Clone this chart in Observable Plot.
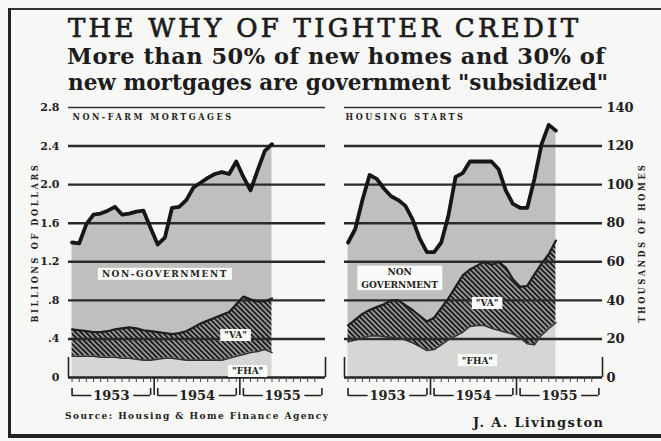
<!DOCTYPE html>
<html>
<head>
<meta charset="utf-8">
<script src="https://cdn.jsdelivr.net/npm/d3@7"></script>
<script src="https://cdn.jsdelivr.net/npm/@observablehq/plot@0.6"></script>
<style>
html, body { margin: 0; padding: 0; background: #f7f7f5; }
#page { position: relative; width: 661px; height: 441px; overflow: hidden; background: #f7f7f5; color: #1c1c1c; font-family: "DejaVu Serif", serif; }
.frame { position: absolute; left: 8px; top: 8px; width: 720px; height: 430px; box-sizing: border-box;
  border-left: 3px solid #222; border-top: 2px solid #333; border-bottom: 4px solid #222; }
.fit { position: absolute; white-space: nowrap; transform-origin: 0 0; line-height: 1; }
#title { font-size: 26px; font-weight: normal; -webkit-text-stroke: 0.7px #1c1c1c; }
.sub { font-size: 22.5px; font-weight: bold; }
.src { font-family: "DejaVu Serif Condensed", "DejaVu Serif", serif; font-size: 10px; font-weight: bold; }
.sig { font-size: 13px; font-weight: bold; }
#plotL { position: absolute; left: 0; top: 95px; }
#plotR { position: absolute; left: 330px; top: 95px; }
</style>
</head>
<body>
<div id="page">
  <div class="frame"></div>
  <div class="fit" id="title" data-x="68" data-base="36.5" data-w="510">THE WHY OF TIGHTER CREDIT</div>
  <div class="fit sub" data-x="67" data-base="64" data-w="538">More than 50% of new homes and 30% of</div>
  <div class="fit sub" data-x="68" data-base="89.5" data-w="540">new mortgages are government "subsidized"</div>
  <div id="plotL"></div>
  <div id="plotR"></div>
  <div class="fit src" data-x="65" data-base="419" data-w="263">Source: Housing &amp; Home Finance Agency</div>
  <div class="fit sig" data-x="473" data-base="427" data-w="130">J. A. Livingston</div>
</div>
<script>
// ---------- data ----------
const months = ["1953-01","1953-02","1953-03","1953-04","1953-05","1953-06","1953-07","1953-08","1953-09","1953-10","1953-11","1953-12",
                "1954-01","1954-02","1954-03","1954-04","1954-05","1954-06","1954-07","1954-08","1954-09","1954-10","1954-11","1954-12",
                "1955-01","1955-02","1955-03","1955-04","1955-05","1955-06"];
const years = ["1953", "1954", "1955"];

// Non-farm mortgages, billions of dollars (Jan 1953 - May 1955)
const mortgageFHA    = [0.22,0.22,0.22,0.22,0.21,0.21,0.21,0.20,0.20,0.19,0.18,0.18,0.19,0.20,0.20,0.19,0.18,0.18,0.18,0.18,0.18,0.18,0.20,0.22,0.24,0.26,0.27,0.29,0.26];
const mortgageVA     = [0.28,0.27,0.26,0.25,0.26,0.27,0.29,0.31,0.32,0.32,0.31,0.30,0.28,0.26,0.25,0.27,0.30,0.34,0.38,0.41,0.44,0.47,0.48,0.54,0.60,0.55,0.52,0.50,0.56];
const mortgageNonGov = [0.90,0.90,1.11,1.22,1.23,1.25,1.27,1.18,1.18,1.21,1.24,1.07,0.91,0.99,1.31,1.31,1.36,1.45,1.46,1.48,1.49,1.48,1.43,1.48,1.24,1.13,1.36,1.56,1.60];

// Housing starts, thousands of homes (Jan 1953 - Jun 1955)
const startsFHA    = [18.5,19.5,20.5,21.5,21.7,21.2,20.8,20.5,19.5,18,16,14,14.5,17,19.5,21.5,23.5,26.5,27,27,25.5,24.5,23.5,22.5,20.5,17.5,17,22,25.5,28.5];
const startsVA     = [8.5,10.5,12.5,13.5,14.8,16.8,19.2,19.5,18,17,16,15,16.5,19,21.5,25.5,29.5,29.5,31,33,33,35.5,33.5,28.5,26.5,30,36.5,37,38.5,42.5];
const startsNonGov = [43,47,59,70,66.5,60,54,52,51.5,47,40,36,34,34,43,57,53,56,54,52,53.5,48,40,39,41,40.5,49.5,62,67,57];

const leftTickValues  = [0, 0.4, 0.8, 1.2, 1.6, 2.0, 2.4, 2.8];
const leftTickLabels  = ["0", ".4", ".8", "1.2", "1.6", "2.0", "2.4", "2.8"];
const rightTickValues = [0, 20, 40, 60, 80, 100, 120, 140];
const rightTickLabels = ["0", "20", "40", "60", "80", "100", "120", "140"];

const leftNotes = [
  {label: "NON-GOVERNMENT", m: 13, v: 1.08},
  {label: "\"VA\"", m: 22.9, v: 0.446},
  {label: "\"FHA\"", m: 24.6, v: 0.073}
];
const rightNotes = [
  {label: "NON\nGOVERNMENT", m: 7.2, v: 51.9},
  {label: "\"VA\"", m: 19.4, v: 38.9},
  {label: "\"FHA\"", m: 18.05, v: 9.3}
];

// ---------- helpers ----------
const bg = "#f7f7f5";
const ns = "http://www.w3.org/2000/svg";
const serif = "DejaVu Serif";
const cond = "DejaVu Serif Condensed, DejaVu Serif";
const monthIndex = s => (+s.slice(0, 4) - 1953) * 12 + (+s.slice(5, 7) - 1);

function makePanel(cfg) {
  const H = 330, mt = 12, mb = 48;
  const pxY = cfg.yMax / (H - mt - mb);
  const rows = cfg.fha.map((f, i) => {
    const va = cfg.va[i], non = cfg.non[i];
    return {m: monthIndex(months[i]), fha: f, vaTop: f + va, total: f + va + non};
  });
  const yearRows = years.map((label, k) => ({label, start: 12 * k, end: 12 * k + 11, mid: 12 * k + 5.5}));
  const bracketEnds = yearRows.flatMap(d => [d.start, d.end]);
  const yearBounds = yearRows.slice(1).map(d => d.start - 0.5);
  const monthTicks = d3.range(0, 35);
  const xDomain = [-0.5, 35.5];
  const left = cfg.side === "left";
  const grid = cfg.ticks.filter(v => v > 0 && v < cfg.yMax);
  const ink = "#222";
  const brY = -18 * pxY;

  return Plot.plot({
    width: cfg.width, height: H, marginTop: mt, marginBottom: mb,
    marginLeft: cfg.marginLeft, marginRight: cfg.marginRight,
    x: {domain: xDomain, axis: null},
    y: {domain: [0, cfg.yMax], axis: null},
    style: {background: "transparent", fontFamily: serif, overflow: "visible"},
    marks: [
      Plot.areaY(rows, {x: "m", y1: "vaTop", y2: "total", fill: "#bfbfbd"}),
      Plot.areaY(rows, {x: "m", y1: "fha", y2: "vaTop", fill: `url(#${cfg.hatchId})`}),
      Plot.areaY(rows, {x: "m", y1: 0, y2: "fha", fill: "#d6d6d4"}),
      Plot.ruleY(grid, {stroke: "#2a2a2a", strokeWidth: 2.4}),
      Plot.ruleY([cfg.yMax], {stroke: "#333", strokeWidth: 1.6}),
      Plot.lineY(rows, {x: "m", y: "fha", stroke: "#333", strokeWidth: 1.6}),
      Plot.lineY(rows, {x: "m", y: "vaTop", stroke: "#1e1e1e", strokeWidth: 2.2}),
      Plot.lineY(rows, {x: "m", y: "total", stroke: "#161616", strokeWidth: 3.8, strokeLinejoin: "round"}),
      Plot.ruleY([0], {stroke: ink, strokeWidth: 2.4}),
      // month tick marks under the baseline
      Plot.ruleX(monthTicks, {x: d => d, y1: 0, y2: -5 * pxY, stroke: "#444", strokeWidth: 1}),
      // year boundary ticks
      Plot.ruleX(yearBounds, {x: d => d, y1: 0, y2: brY, stroke: ink, strokeWidth: 1.6}),
      // end ticks of the axis
      Plot.ruleX([xDomain[0], xDomain[1]], {x: d => d, y1: 0, y2: 20 * pxY, stroke: ink, strokeWidth: 1.6}),
      // year brackets
      Plot.ruleY(yearRows, {x1: "start", x2: "end", y: brY, stroke: ink, strokeWidth: 1.6}),
      Plot.ruleX(bracketEnds, {x: d => d, y1: brY, y2: -11 * pxY, stroke: ink, strokeWidth: 1.6}),
      Plot.text(yearRows, {x: "mid", y: brY, text: "label", fontSize: 13, fontWeight: "bold", fill: ink,
        stroke: bg, strokeWidth: 9, paintOrder: "stroke"}),
      // tick labels
      Plot.text(cfg.ticks, {y: d => d, text: (d, i) => cfg.tickLabels[i],
        frameAnchor: left ? "left" : "right", textAnchor: left ? "end" : "start", dx: left ? -9 : 4,
        fontSize: left ? 11 : 13, fontWeight: "bold", fill: ink}),
      // panel title
      Plot.text([cfg.title], {text: d => d, frameAnchor: "top-left", textAnchor: "start", lineAnchor: "top",
        dx: left ? 4 : 1, dy: 6, fontFamily: cond, fontSize: 9, fontWeight: "bold", fill: ink}),
      // axis title
      Plot.text([cfg.axisTitle], {text: d => d, frameAnchor: left ? "left" : "right", rotate: -90,
        textAnchor: "middle", lineAnchor: "middle",
        dx: left ? -33 : 40, fontFamily: cond, fontSize: 9, fontWeight: "bold", fill: ink}),
      // series labels
      Plot.text(cfg.notes, {x: "m", y: "v", text: "label", fontFamily: cond, fontSize: 10, fontWeight: "bold",
        fill: ink, lineHeight: 1.25})
    ]
  });
}

function addHatch(svg, id) {
  const defs = document.createElementNS(ns, "defs");
  defs.innerHTML = `<pattern id="${id}" patternUnits="userSpaceOnUse" width="3.6" height="3.6" patternTransform="rotate(-45)">
    <rect width="3.6" height="3.6" fill="#9a9a9a"/>
    <line x1="0.9" y1="0" x2="0.9" y2="3.6" stroke="#1c1c1c" stroke-width="1.9"/></pattern>`;
  svg.insertBefore(defs, svg.firstChild);
}

function postProcess(svg, fitMap, boxed) {
  svg.querySelectorAll("text").forEach(t => {
    const s = t.textContent;
    if (fitMap[s] != null && !t.querySelector("tspan")) {
      const nat = t.getComputedTextLength();
      const w = fitMap[s];
      if (nat < w) {
        t.style.letterSpacing = ((w - nat) / s.length) + "px";
      } else {
        const fs = parseFloat(getComputedStyle(t).fontSize);
        t.style.fontSize = (fs * w / nat) + "px";
      }
    }
  });
  svg.querySelectorAll("text").forEach(t => {
    if (!boxed.has(t.textContent)) return;
    const b = t.getBBox();
    const r = document.createElementNS(ns, "rect");
    r.setAttribute("x", b.x - 4);
    r.setAttribute("y", b.y - 0.5);
    r.setAttribute("width", b.width + 8);
    r.setAttribute("height", b.height + 1);
    r.setAttribute("fill", "#fafaf8");
    const tr = t.getAttribute("transform");
    if (tr) r.setAttribute("transform", tr);
    t.parentNode.insertBefore(r, t);
  });
}

const fitMap = {
  "NON-FARM MORTGAGES": 161,
  "HOUSING STARTS": 120,
  "BILLIONS OF DOLLARS": 160,
  "THOUSANDS OF HOMES": 160,
  "NON-GOVERNMENT": 126
};

const svgL = makePanel({
  side: "left", width: 337, marginLeft: 68, marginRight: 12, yMax: 2.8,
  fha: mortgageFHA, va: mortgageVA, non: mortgageNonGov,
  ticks: leftTickValues, tickLabels: leftTickLabels,
  title: "NON-FARM MORTGAGES", axisTitle: "BILLIONS OF DOLLARS", notes: leftNotes, hatchId: "hatchL"
});
const svgR = makePanel({
  side: "right", width: 331, marginLeft: 14, marginRight: 59, yMax: 140,
  fha: startsFHA, va: startsVA, non: startsNonGov,
  ticks: rightTickValues, tickLabels: rightTickLabels,
  title: "HOUSING STARTS", axisTitle: "THOUSANDS OF HOMES", notes: rightNotes, hatchId: "hatchR"
});
addHatch(svgL, "hatchL");
addHatch(svgR, "hatchR");
document.getElementById("plotL").appendChild(svgL);
document.getElementById("plotR").appendChild(svgR);
const boxedL = new Set(leftNotes.map(d => d.label.replace(/\n/g, "")));
const boxedR = new Set(rightNotes.map(d => d.label.replace(/\n/g, "")));
postProcess(svgL, fitMap, boxedL);
postProcess(svgR, fitMap, boxedR);

// fit HTML texts to their measured widths and baselines
document.querySelectorAll(".fit").forEach(el => {
  const x = +el.dataset.x, base = +el.dataset.base, w = +el.dataset.w;
  el.style.left = x + "px";
  el.style.top = "0px";
  const probe = document.createElement("span");
  probe.style.cssText = "display:inline-block;width:0;height:0;vertical-align:baseline";
  el.appendChild(probe);
  const baseOff = probe.getBoundingClientRect().top - el.getBoundingClientRect().top;
  el.removeChild(probe);
  const nat = el.getBoundingClientRect().width;
  const n = el.textContent.length;
  if (nat < w) el.style.letterSpacing = ((w - nat) / (n - 1)) + "px";
  else el.style.transform = `scaleX(${w / nat})`;
  el.style.top = (base - baseOff) + "px";
});
</script>
</body>
</html>
